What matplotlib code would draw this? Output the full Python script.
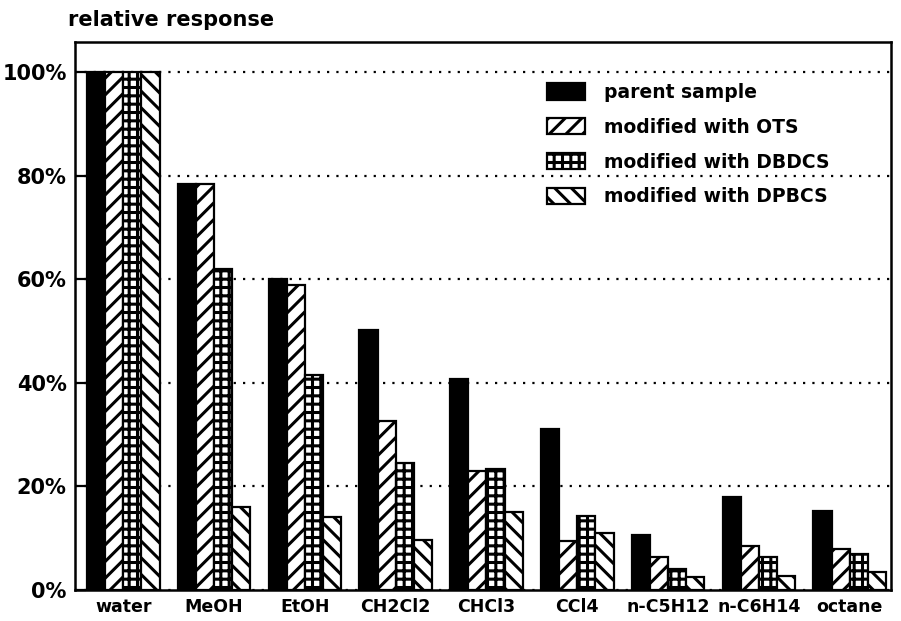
import numpy as np
import matplotlib
matplotlib.use("Agg")
import matplotlib.pyplot as plt

# Solvents tested and relative response (%) for each sample
solvents = ["water", "MeOH", "EtOH", "CH2Cl2", "CHCl3", "CCl4",
            "n-C5H12", "n-C6H14", "octane"]
parent = [100, 78.3, 60, 50.2, 40.8, 31.1, 10.6, 18, 15.3]
ots = [100, 78.3, 58.9, 32.6, 23, 9.5, 6.3, 8.5, 8]
dbdcs = [100, 62, 41.5, 24.5, 23.4, 14.3, 4.1, 6.4, 7]
dpbcs = [100, 16, 14.1, 9.7, 15, 11, 2.5, 2.7, 3.5]

series_labels = ["parent sample", "modified with OTS",
                 "modified with DBDCS", "modified with DPBCS"]
y_ticks = [0, 20, 40, 60, 80, 100]
y_tick_labels = ["0%", "20%", "40%", "60%", "80%", "100%"]

plt.rcParams["font.family"] = ["DejaVu Sans"]
plt.rcParams["font.weight"] = "bold"
plt.rcParams["hatch.linewidth"] = 2.2
plt.rcParams["hatch.color"] = "black"

W, H = 901, 621
fig = plt.figure(figsize=(W / 100, H / 100), dpi=100)
ax = fig.add_axes([75 / W, 1 - 590 / H, (891 - 75) / W, (590 - 42) / H])

x = np.arange(len(solvents))
bw = 0.2
styles = [dict(facecolor="black", hatch=None),
          dict(facecolor="white", hatch="//"),
          dict(facecolor="white", hatch="++"),
          dict(facecolor="white", hatch="\\\\")]
for i, (vals, lab, st) in enumerate(zip([parent, ots, dbdcs, dpbcs],
                                        series_labels, styles)):
    ax.bar(x + (i - 1.5) * bw, vals, width=bw, edgecolor="black",
           linewidth=1.6, label=lab, zorder=3, **st)

ax.set_xlim(-0.532, 8.455)
ax.set_ylim(0, 105.8)
ax.set_yticks(y_ticks)
ax.set_yticklabels(y_tick_labels, fontsize=15, fontweight="bold")
ax.set_xticks(x)
ax.set_xticklabels(solvents, fontsize=12.5, fontweight="bold")
ax.tick_params(axis="y", direction="in", length=8, width=1.6, pad=6)
ax.tick_params(axis="x", length=0, pad=6)

for s in ax.spines.values():
    s.set_linewidth(1.8)
    s.set_color("black")

ax.set_axisbelow(True)
ax.yaxis.grid(True, color="black", linewidth=1.6, linestyle=(0, (1, 3.2)))
ax.xaxis.grid(False)

fig.text(68 / W, 1 - 20 / H, "relative response", fontsize=15,
         fontweight="bold", va="center", ha="left")

leg = ax.legend(loc="upper left", bbox_to_anchor=(547 / W, 1 - 83 / H),
                bbox_transform=fig.transFigure, frameon=False,
                fontsize=13.5, handlelength=2.05, handleheight=0.95,
                handletextpad=1.0, labelspacing=0.84, borderpad=0,
                borderaxespad=0)
for t in leg.get_texts():
    t.set_fontweight("bold")

fig.savefig("out.png", dpi=100)
